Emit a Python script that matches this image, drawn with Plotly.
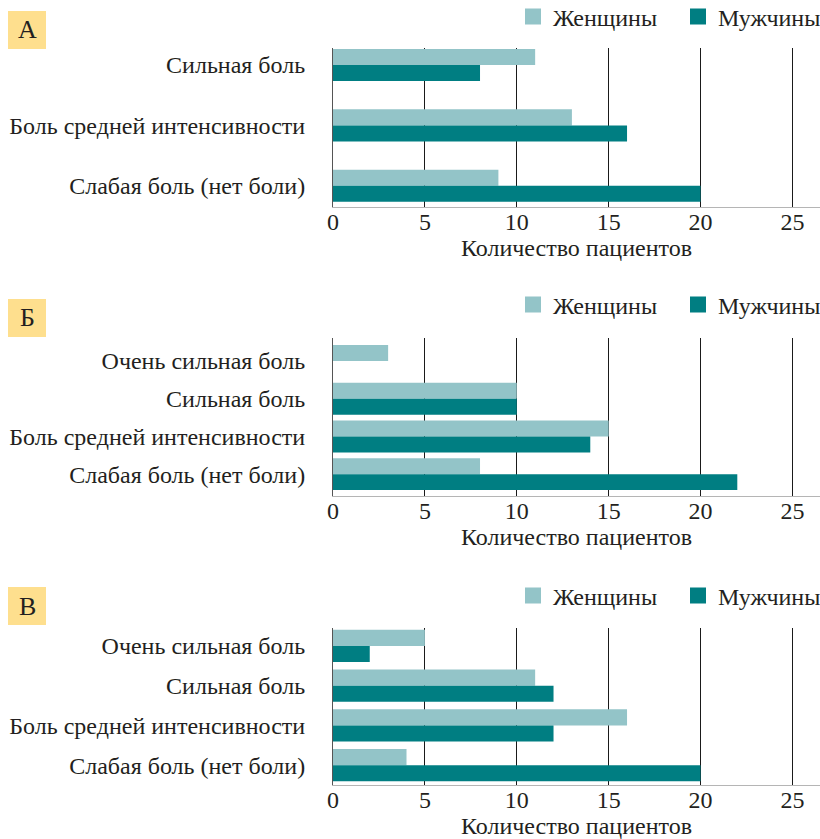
import plotly.graph_objects as go

# ---- data ----
panel_letters = ["А", "Б", "В"]
cats_A = ["Сильная боль", "Боль средней интенсивности", "Слабая боль (нет боли)"]
women_A = [11, 13, 9]
men_A = [8, 16, 20]

cats_B = ["Очень сильная боль", "Сильная боль", "Боль средней интенсивности", "Слабая боль (нет боли)"]
women_B = [3, 10, 15, 8]
men_B = [0, 10, 14, 22]

cats_C = ["Очень сильная боль", "Сильная боль", "Боль средней интенсивности", "Слабая боль (нет боли)"]
women_C = [5, 11, 16, 4]
men_C = [2, 12, 12, 20]

x_ticks = [0, 5, 10, 15, 20, 25]
x_title = "Количество пациентов"
series_names = ["Женщины", "Мужчины"]

# ---- style ----
W, H = 820, 839
FONT = "Liberation Serif, Times New Roman, serif"
TXT = "#231f20"
C_W = "#93c4c8"
C_M = "#007e82"
BOX = "#fedf8e"
FS = 24

panels = [
    # cats, women, men, plot top px, plot bottom px, y range (reversed), bar width
    (cats_A, women_A, men_A, 48, 207, [2.35, -0.28], 0.265),
    (cats_B, women_B, men_B, 338, 496, [3.58, -0.61], 0.424),
    (cats_C, women_C, men_C, 628, 785, [3.50, -0.45], 0.403),
]
box_tops = [11, 299, 587]
legend_y = [17, 305, 596]

fig = go.Figure()
layout = dict(
    width=W, height=H, margin=dict(l=0, r=0, t=0, b=0, autoexpand=False),
    paper_bgcolor="white", plot_bgcolor="white",
    font=dict(family=FONT, size=FS, color=TXT),
    barmode="overlay", shapes=[], annotations=[],
)

for i, (cats, wv, mv, top, bot, yr, bw) in enumerate(panels):
    sfx = "" if i == 0 else str(i + 1)
    lg = "legend" if i == 0 else f"legend{i + 1}"
    for name, vals, col, off in ((series_names[0], wv, C_W, -bw),
                                 (series_names[1], mv, C_M, 0)):
        fig.add_trace(go.Bar(
            y=cats, x=vals, orientation="h", name=name,
            marker=dict(color=col, line=dict(width=0)),
            width=bw, offset=off, xaxis="x" + sfx, yaxis="y" + sfx,
            showlegend=False, hoverinfo="x+y",
        ))
        # legend key (square swatch)
        fig.add_trace(go.Scatter(
            x=[None], y=[None], mode="markers", name=name,
            marker=dict(symbol="square", size=16, color=col, line=dict(width=0)),
            xaxis="x" + sfx, yaxis="y" + sfx, legend=lg, showlegend=True,
        ))
    layout["xaxis" + sfx] = dict(
        domain=[333 / W, 1.0], range=[0, 26.5], anchor="y" + sfx,
        tickvals=x_ticks, showgrid=True, gridcolor="#1a1a1a", gridwidth=1,
        zeroline=False, showline=True, linecolor="#b5b5b5", linewidth=1,
        ticks="", ticklabelstandoff=-7, automargin=False,
        tickfont=dict(size=FS, color=TXT),
        title=dict(text=x_title, font=dict(size=FS, color=TXT), standoff=0),
    )
    layout["yaxis" + sfx] = dict(
        domain=[1 - bot / H, 1 - top / H], range=yr, anchor="x" + sfx,
        type="category", categoryorder="array", categoryarray=cats,
        showgrid=False, zeroline=False, showline=True, linecolor="#555555",
        linewidth=1, ticks="", ticklabelstandoff=22, automargin=False,
        tickfont=dict(size=FS, color=TXT),
    )
    layout[lg] = dict(
        orientation="h", x=1.0 + 23 / W, xanchor="right",
        y=1 - legend_y[i] / H, yanchor="middle",
        font=dict(size=FS, color=TXT), bgcolor="rgba(0,0,0,0)",
        itemwidth=30, tracegroupgap=0, itemsizing="trace",
        entrywidth=120, entrywidthmode="pixels",
    )
    bt = box_tops[i]
    layout["shapes"].append(dict(
        type="rect", xref="paper", yref="paper",
        x0=8 / W, x1=46 / W, y0=1 - (bt + 38) / H, y1=1 - bt / H,
        fillcolor=BOX, line=dict(width=0), layer="below",
    ))
    layout["annotations"].append(dict(
        text=panel_letters[i], xref="paper", yref="paper",
        x=27 / W, y=1 - (bt + 19) / H, xanchor="center", yanchor="middle",
        showarrow=False, font=dict(size=26, color=TXT),
    ))

fig.update_layout(**layout)
fig.write_html("out.html", config={"displayModeBar": False},
               post_script="document.body.style.margin='0px';")
